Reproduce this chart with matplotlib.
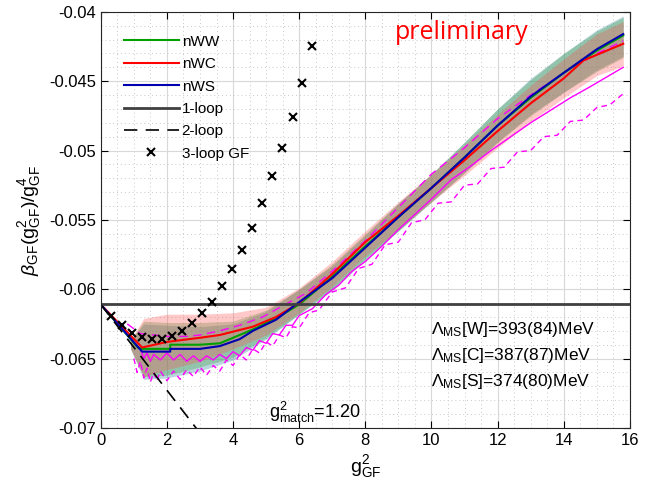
import numpy as np
import matplotlib
matplotlib.use('Agg')
import matplotlib.pyplot as plt
from matplotlib.ticker import MultipleLocator, FuncFormatter

plt.rcParams['font.family'] = ['Liberation Sans', 'DejaVu Sans']
plt.rcParams['mathtext.fontset'] = 'custom'
plt.rcParams['mathtext.rm'] = 'Liberation Sans'
plt.rcParams['mathtext.it'] = 'Liberation Sans:italic'
plt.rcParams['mathtext.default'] = 'regular'
plt.rcParams['axes.unicode_minus'] = False

#%% data

# perturbative curves
loop1_x = [0, 16]
loop1_y = [-0.0611, -0.0611]
loop2_x = [0, 3.2]
loop2_y = [-0.0611, -0.07099]

# 3-loop GF points
gf3_x = [0.32, 0.65, 0.95, 1.26, 1.55, 1.85, 2.16, 2.46, 2.77, 3.05, 3.35,
         3.67, 3.97, 4.27, 4.57, 4.87, 5.17, 5.48, 5.80, 6.09, 6.40]
gf3_y = [-0.06192, -0.06257, -0.06312, -0.06348, -0.06360, -0.06360, -0.06336,
         -0.06298, -0.06240, -0.06172, -0.06089, -0.05975, -0.05853, -0.05714,
         -0.05557, -0.05379, -0.05187, -0.04981, -0.04755, -0.04510, -0.04245]

# central lines
nww_x = [0, 1.12, 1.25, 2.1, 2.1, 3.0, 3.6, 4.6, 5.3, 6.0, 7.0, 8.0, 9.0, 10.0,
         11.0, 12.0, 13.0, 14.0, 15.0, 15.8]
nww_y = [-0.0611, -0.0642, -0.0643, -0.0643, -0.0640, -0.0640, -0.0639, -0.0629,
         -0.0621, -0.0611, -0.0591, -0.0569, -0.0548, -0.0527, -0.0505, -0.0482,
         -0.0462, -0.0444, -0.0428, -0.0417]
nwc_x = [0, 1.25, 2.0, 3.0, 3.6, 4.6, 5.3, 6.0, 7.0, 8.0, 9.0, 10.0, 11.0, 12.0,
         13.0, 14.0, 14.6, 15.1, 15.8]
nwc_y = [-0.0611, -0.0642, -0.0638, -0.0635, -0.0633, -0.0627, -0.0620, -0.0610,
         -0.0589, -0.0566, -0.0547, -0.0527, -0.0507, -0.0486, -0.0466, -0.0448,
         -0.0435, -0.0430, -0.0423]
nws_x = [0, 1.25, 2.1, 2.1, 3.0, 3.6, 4.2, 4.6, 5.3, 5.9, 7.0, 8.0, 9.0, 10.0,
         11.0, 12.0, 13.0, 14.0, 15.0, 15.8]
nws_y = [-0.0611, -0.0645, -0.0645, -0.0643, -0.0643, -0.0641, -0.0636, -0.0630,
         -0.0622, -0.0611, -0.0592, -0.0570, -0.0548, -0.0527, -0.0505, -0.0482,
         -0.0461, -0.0444, -0.0427, -0.0416]

# error bands
band_x = [0.9, 1.3, 2.0, 3.0, 4.0, 5.0, 6.0, 7.0, 8.0, 9.0, 10.0, 11.0, 12.0,
          13.0, 14.0, 15.0, 15.8]
nww_lo = [-0.0643, -0.0663, -0.0662, -0.0656, -0.0649, -0.0635, -0.0618, -0.0600,
          -0.0578, -0.0558, -0.0537, -0.0516, -0.0494, -0.0475, -0.0458, -0.0443, -0.0433]
nww_hi = [-0.0637, -0.0623, -0.0624, -0.0624, -0.0623, -0.0615, -0.0600, -0.0582,
          -0.0560, -0.0538, -0.0517, -0.0494, -0.0470, -0.0449, -0.0430, -0.0414, -0.0404]
nwc_lo = [-0.0643, -0.0663, -0.0658, -0.0652, -0.0643, -0.0633, -0.0617, -0.0598,
          -0.0576, -0.0557, -0.0537, -0.0518, -0.0498, -0.0479, -0.0462, -0.0446, -0.0439]
nwc_hi = [-0.0637, -0.0621, -0.0618, -0.0618, -0.0617, -0.0613, -0.0599, -0.0580,
          -0.0558, -0.0537, -0.0517, -0.0496, -0.0474, -0.0453, -0.0434, -0.0416, -0.0407]
nws_lo = [-0.0643, -0.0665, -0.0664, -0.0659, -0.0651, -0.0636, -0.0618, -0.0601,
          -0.0579, -0.0558, -0.0537, -0.0516, -0.0494, -0.0474, -0.0458, -0.0442, -0.0432]
nws_hi = [-0.0637, -0.0625, -0.0626, -0.0627, -0.0625, -0.0616, -0.0600, -0.0583,
          -0.0561, -0.0538, -0.0517, -0.0494, -0.0470, -0.0448, -0.0430, -0.0413, -0.0403]

# magenta systematic curves
mag_up_x = [0.8, 1.2, 1.6, 2.0, 2.6, 3.0, 3.6, 4.2, 4.9, 5.5, 6.2, 7.0, 8.0, 9.0,
            10.0, 11.0, 12.0, 13.0, 14.0, 15.0, 15.8]
mag_up_y = [-0.0625, -0.0632, -0.0633, -0.0634, -0.0634, -0.0633, -0.0630, -0.0626,
            -0.0620, -0.0612, -0.0603, -0.0587, -0.0565, -0.0541, -0.0517, -0.0498,
            -0.0477, -0.0460, -0.0444, -0.0430, -0.0421]
mag_mid_x = [1.2, 1.3, 1.4, 1.5, 1.6, 1.8, 2.0, 2.2, 2.4, 2.6, 2.8, 3.0, 3.2, 3.4,
             3.6, 3.8, 4.0, 4.2, 4.4, 4.6, 4.8, 5.0, 5.2, 5.4, 5.6, 5.8, 6.0, 6.4,
             6.8, 7.2, 7.6, 8.0, 8.5, 9.0, 9.5, 10.0, 10.6, 11.2, 11.8, 12.4, 13.0,
             13.6, 14.2, 14.8, 15.3, 15.8]
mag_mid_y = [-0.0643, -0.0650, -0.0646, -0.0652, -0.0647, -0.0651, -0.0646, -0.0651,
             -0.0647, -0.0652, -0.0648, -0.0652, -0.0648, -0.0651, -0.0647, -0.0650,
             -0.0645, -0.0648, -0.0642, -0.0644, -0.0637, -0.0639, -0.0632, -0.0633,
             -0.0626, -0.0626, -0.0619, -0.0614, -0.0604, -0.0597, -0.0587, -0.0580,
             -0.0569, -0.0557, -0.0546, -0.0535, -0.0521, -0.0511, -0.0500, -0.0490,
             -0.0480, -0.0471, -0.0462, -0.0454, -0.0447, -0.0440]
mag_lo_x = [1.0, 1.1, 1.2, 1.3, 1.4, 1.5, 1.6, 1.7, 1.8, 2.0, 2.2, 2.4, 2.6, 2.8,
            3.0, 3.2, 3.4, 3.6, 3.8, 4.0, 4.2, 4.4, 4.6, 4.8, 5.0, 5.2, 5.4, 5.6,
            5.8, 6.0, 6.3, 6.6, 7.0, 7.4, 7.8, 8.2, 8.6, 9.0, 9.4, 9.8, 10.2, 10.6,
            11.0, 11.4, 11.8, 12.2, 12.6, 13.0, 13.4, 13.8, 14.2, 14.6, 15.0, 15.4, 15.8]
mag_lo_y = [-0.0650, -0.0660, -0.0652, -0.0664, -0.0657, -0.0667, -0.0660, -0.0666,
            -0.0659, -0.0666, -0.0659, -0.0665, -0.0658, -0.0663, -0.0656, -0.0662,
            -0.0655, -0.0659, -0.0651, -0.0655, -0.0647, -0.0651, -0.0643, -0.0646,
            -0.0638, -0.0641, -0.0633, -0.0635, -0.0627, -0.0628, -0.0617, -0.0615,
            -0.0602, -0.0599, -0.0585, -0.0582, -0.0568, -0.0566, -0.0552, -0.0550,
            -0.0538, -0.0537, -0.0525, -0.0524, -0.0513, -0.0512, -0.0501, -0.0500,
            -0.0490, -0.0489, -0.0479, -0.0478, -0.0469, -0.0467, -0.0459]

lambda_texts = [r'$\Lambda_{MS}$[W]=393(84)MeV',
                r'$\Lambda_{MS}$[C]=387(87)MeV',
                r'$\Lambda_{MS}$[S]=374(80)MeV']

#%% plot

fig = plt.figure(figsize=(6.46, 4.93), dpi=100)
ax = fig.add_axes([0.156, 0.132, 0.819, 0.844])

ax.fill_between(band_x, nws_lo, nws_hi, color=(0.25, 0.55, 0.65), alpha=0.35, lw=0)
ax.fill_between(band_x, nww_lo, nww_hi, color=(0.2, 0.6, 0.2), alpha=0.3, lw=0)
ax.fill_between(band_x, nwc_lo, nwc_hi, color=(1.0, 0.3, 0.3), alpha=0.3, lw=0)

ax.plot(mag_up_x, mag_up_y, color='#ff00ff', lw=1, dashes=(6, 4))
ax.plot(mag_mid_x, mag_mid_y, color='#ff00ff', lw=1)
ax.plot(mag_lo_x, mag_lo_y, color='#ff00ff', lw=1, dashes=(4, 3))

ax.plot(nww_x, nww_y, color='#00a000', lw=1.5, label='nWW')
ax.plot(nwc_x, nwc_y, color='#ff0000', lw=1.5, label='nWC')
ax.plot(nws_x, nws_y, color='#0000b0', lw=1.5, label='nWS')
ax.plot(loop1_x, loop1_y, color='#404040', lw=2, label='1-loop')
ax.plot(loop2_x, loop2_y, color='black', lw=1.2, dashes=(8, 5), label='2-loop')
ax.plot(gf3_x, gf3_y, 'kx', ms=6, mew=1.5, label='3-loop GF')

ax.set_xlim(0, 16)
ax.set_ylim(-0.07, -0.04)
ax.xaxis.set_major_locator(MultipleLocator(2))
ax.xaxis.set_minor_locator(MultipleLocator(0.5))
ax.yaxis.set_major_locator(MultipleLocator(0.005))
ax.yaxis.set_minor_locator(MultipleLocator(0.001))
ax.yaxis.set_major_formatter(FuncFormatter(lambda v, p: '%g' % round(v, 4)))
ax.grid(which='major', color='#d8d8d8', lw=0.8)
ax.grid(which='minor', color='#c8c8c8', lw=0.7, linestyle=(0, (1, 3)))
ax.set_axisbelow(True)
ax.tick_params(which='both', direction='in', top=True, right=True, labelsize=12)
ax.tick_params(which='minor', length=0)
ax.tick_params(which='major', length=5)
for s in ax.spines.values():
    s.set_color('#262626')

ax.set_xlabel(r'$g^2_{GF}$', fontsize=14, labelpad=4)
ax.set_ylabel(r'$\mathit{\beta}_{GF}(g^2_{GF})/g^4_{GF}$', fontsize=14, labelpad=4)

ax.text(10.9, -0.0415, 'preliminary', color='red', fontsize=18,
        family='Open Sans', ha='center', va='center')
ax.text(5.1, -0.0689, r'$g^2_{match}$=1.20', fontsize=13, ha='left', va='center')
for i, t in enumerate(lambda_texts):
    ax.text(10.0, -0.0629 - 0.00187 * i, t, fontsize=12.5, ha='left', va='center')

ax.legend(loc='upper left', frameon=False, fontsize=11, handlelength=3.6,
          labelspacing=0.55, handletextpad=0.2, borderaxespad=1.1)

plt.savefig('out.png', dpi=100)
